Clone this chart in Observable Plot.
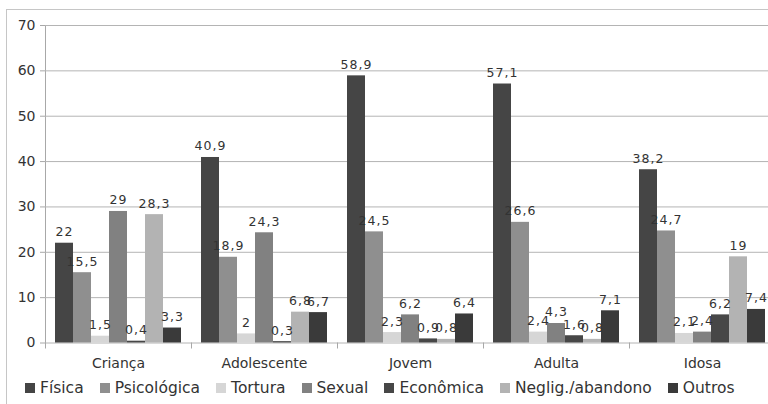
<!DOCTYPE html>
<html>
<head>
<meta charset="utf-8">
<script src="https://cdn.jsdelivr.net/npm/d3@7"></script>
<script src="https://cdn.jsdelivr.net/npm/@observablehq/plot@0.6"></script>
<style>
  html, body { margin: 0; padding: 0; background: #fff; }
  #wrap { position: relative; width: 768px; height: 404px; overflow: hidden; font-family: "DejaVu Sans", sans-serif; }
  #wrap svg text { fill: #333; }
  #wrap svg text.val { letter-spacing: 1px; }
  #box { position: absolute; left: 6px; top: 9px; width: 900px; height: 500px; border-top: 1px solid #c6c6c6; border-left: 1px solid #c6c6c6; pointer-events: none; }
  #legend { display: flex; align-items: center; gap: 16px; height: 32px; padding-left: 25px; font-size: 15.5px; color: #333; }
  #legend .item { display: flex; align-items: center; gap: 5px; white-space: nowrap; }
  #legend .sw { width: 10px; height: 10px; display: inline-block; }
</style>
</head>
<body>
<div id="wrap"><div id="chart"></div><div id="legend"></div><div id="box"></div></div>
<script>
// Age groups along the horizontal axis
const groups = ["Criança", "Adolescente", "Jovem", "Adulta", "Idosa"];
// Types of violence (one bar each per group)
const types = ["Física", "Psicológica", "Tortura", "Sexual", "Econômica", "Neglig./abandono", "Outros"];
const colors = ["#454545", "#8f8f8f", "#d6d6d6", "#818181", "#474747", "#b3b3b3", "#3a3a3a"];
// Percentages per type, in the order of `groups`
const fisica      = [22, 40.9, 58.9, 57.1, 38.2];
const psicologica = [15.5, 18.9, 24.5, 26.6, 24.7];
const tortura     = [1.5, 2, 2.3, 2.4, 2.1];
const sexual      = [29, 24.3, 6.2, 4.3, 2.4];
const economica   = [0.4, 0.3, 0.9, 1.6, 6.2];
const negligencia = [28.3, 6.8, 0.8, 0.8, 19];
const outros      = [3.3, 6.7, 6.4, 7.1, 7.4];
const yTicks = [0, 10, 20, 30, 40, 50, 60, 70];

const series = [fisica, psicologica, tortura, sexual, economica, negligencia, outros];
const rows = [];
groups.forEach((g, gi) => {
  types.forEach((t, ti) => rows.push({group: g, type: t, value: series[ti][gi]}));
});
const fmt = v => String(v).replace(".", ",");

const plot = Plot.plot({
  width: 768,
  height: 372,
  marginTop: 25,
  marginBottom: 29.5,
  marginLeft: 43,
  marginRight: -8,
  style: {fontFamily: "DejaVu Sans, sans-serif", fontSize: "14px", color: "#a8a8a8", background: "white", overflow: "visible"},
  fx: {domain: groups, padding: 0, label: null, axis: "bottom", tickSize: 0, tickPadding: 15},
  x: {domain: types, paddingInner: 0, paddingOuter: 0.5, axis: null},
  y: {domain: [0, 70], ticks: yTicks, tickSize: 5, tickPadding: 5, label: null, line: true},
  color: {domain: types, range: colors},
  facet: {data: rows, x: "group"},
  marks: [
    Plot.ruleY(yTicks, {stroke: "#b4b4b4"}),
    Plot.barY(rows, {x: "type", y: "value", fill: "type"}),
    Plot.text(rows, {x: "type", y: "value", text: d => fmt(d.value), dy: -11, fontSize: 12.5}),
    // short separator ticks below the baseline at each group's left edge
    Plot.frame({anchor: "left", stroke: "#a8a8a8", insetTop: 372 - 25 - 29.5, insetBottom: -5})
  ]
});
document.getElementById("chart").append(plot);

// value labels get letter spacing
d3.select(plot).selectAll("g[aria-label='text'] text").classed("val", true);

// legend
const legend = d3.select("#legend");
types.forEach((t, i) => {
  const it = legend.append("div").attr("class", "item");
  it.append("span").attr("class", "sw").style("background", colors[i]);
  it.append("span").text(t);
});
</script>
</body>
</html>
